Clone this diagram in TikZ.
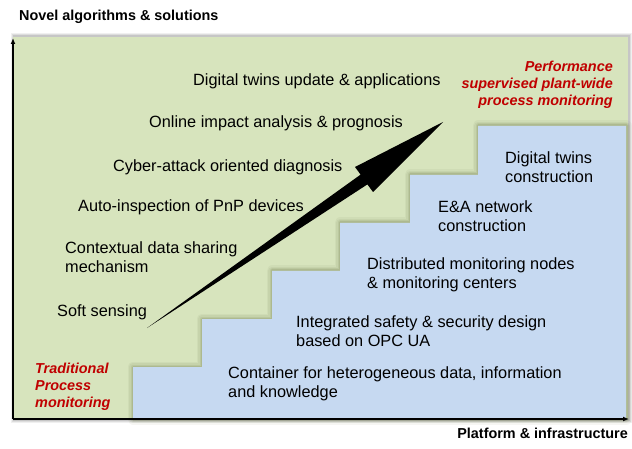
\documentclass[tikz,border=0pt]{standalone}
\usepackage{fontspec}
\setmainfont{Liberation Sans}
\usetikzlibrary{arrows.meta}
\definecolor{plantgreen}{HTML}{D7E4BD}
\definecolor{infrablue}{HTML}{C6D9F1}
\definecolor{stepshadow}{HTML}{5E6A38}
\definecolor{labelred}{HTML}{C00000}
\begin{document}
\begin{tikzpicture}[x=1pt,y=-1pt,
  item/.style={font=\fontsize{16.3}{19.5}\selectfont, inner sep=0pt, align=left, anchor=north west},
  axislabel/.style={font=\fontsize{14.4}{17}\selectfont\bfseries, inner sep=0pt},
  milestone/.style={font=\fontsize{14.4}{17}\selectfont\bfseries\itshape, text=labelred, inner sep=0pt},
  axis/.style={line width=1.8pt, -{Latex[length=6pt,width=5pt]}}]
\useasboundingbox (0,0) rectangle (632,449);

% soft shadow of the background panel
\foreach \w/\o in {7/0.06,5/0.08,3/0.10}
  \draw[line width=\w pt, black, opacity=\o] (14,37) rectangle (628,419);
\fill[plantgreen] (13,37) rectangle (628,419);

% staircase outline, shadow first
\def\stairs{(133,419) -- (133,367) -- (202,367) -- (202,319) -- (272,319) -- (272,271)
  -- (340,271) -- (340,223) -- (410,223) -- (410,175) -- (478,175) -- (478,126)
  -- (626,126) -- (626,419) -- cycle}
\foreach \w/\o in {11/0.06,8/0.08,5/0.11,3/0.14}
  \draw[line width=\w pt, stepshadow, opacity=\o, line join=round] \stairs;
\fill[infrablue] \stairs;

% axes
\coordinate (origin) at (13,419);
\coordinate (ytop) at (13,38);
\coordinate (xend) at (629,419);
\draw[axis] (origin) -- (ytop);
\draw[axis] (origin) -- (xend);

% tapered growth arrow
\fill[black] (147,328) -- (367.4,184.4) -- (373,192) -- (443,122) -- (355,167) -- (360.6,174.6) -- cycle;

% axis titles
\node[axislabel, anchor=base west] (yname) at (19,21) {Novel algorithms \& solutions};
\node[axislabel, anchor=base east] (xname) at (628,438) {Platform \& infrastructure};

% algorithm layer
\node[item] (twinupd) at (193,73.2) {Digital twins update \& applications};
\node[item] (impact) at (149,115.2) {Online impact analysis \& prognosis};
\node[item] (cyber) at (113,159.2) {Cyber-attack oriented diagnosis};
\node[item] (pnp) at (78,199.2) {Auto-inspection of PnP devices};
\node[item] (context) at (65,241.2) {Contextual data sharing\\mechanism};
\node[item] (soft) at (57,304.2) {Soft sensing};

% infrastructure layer
\node[item] (twincon) at (505,151.2) {Digital twins\\construction};
\node[item] (ea) at (438,200.2) {E\&A network\\construction};
\node[item] (distrib) at (367,257.2) {Distributed monitoring nodes\\\& monitoring centers};
\node[item] (opcua) at (296,315.2) {Integrated safety \& security design\\based on OPC UA};
\node[item] (container) at (228,366.2) {Container for heterogeneous data, information\\and knowledge};

% end points of the evolution
\node[milestone, align=right, anchor=north east] (perf) at (613,60.5)
  {Performance\\supervised plant-wide\\process monitoring};
\node[milestone, align=left, anchor=north west] (trad) at (35,362.5)
  {Traditional\\Process\\monitoring};
\end{tikzpicture}
\end{document}
